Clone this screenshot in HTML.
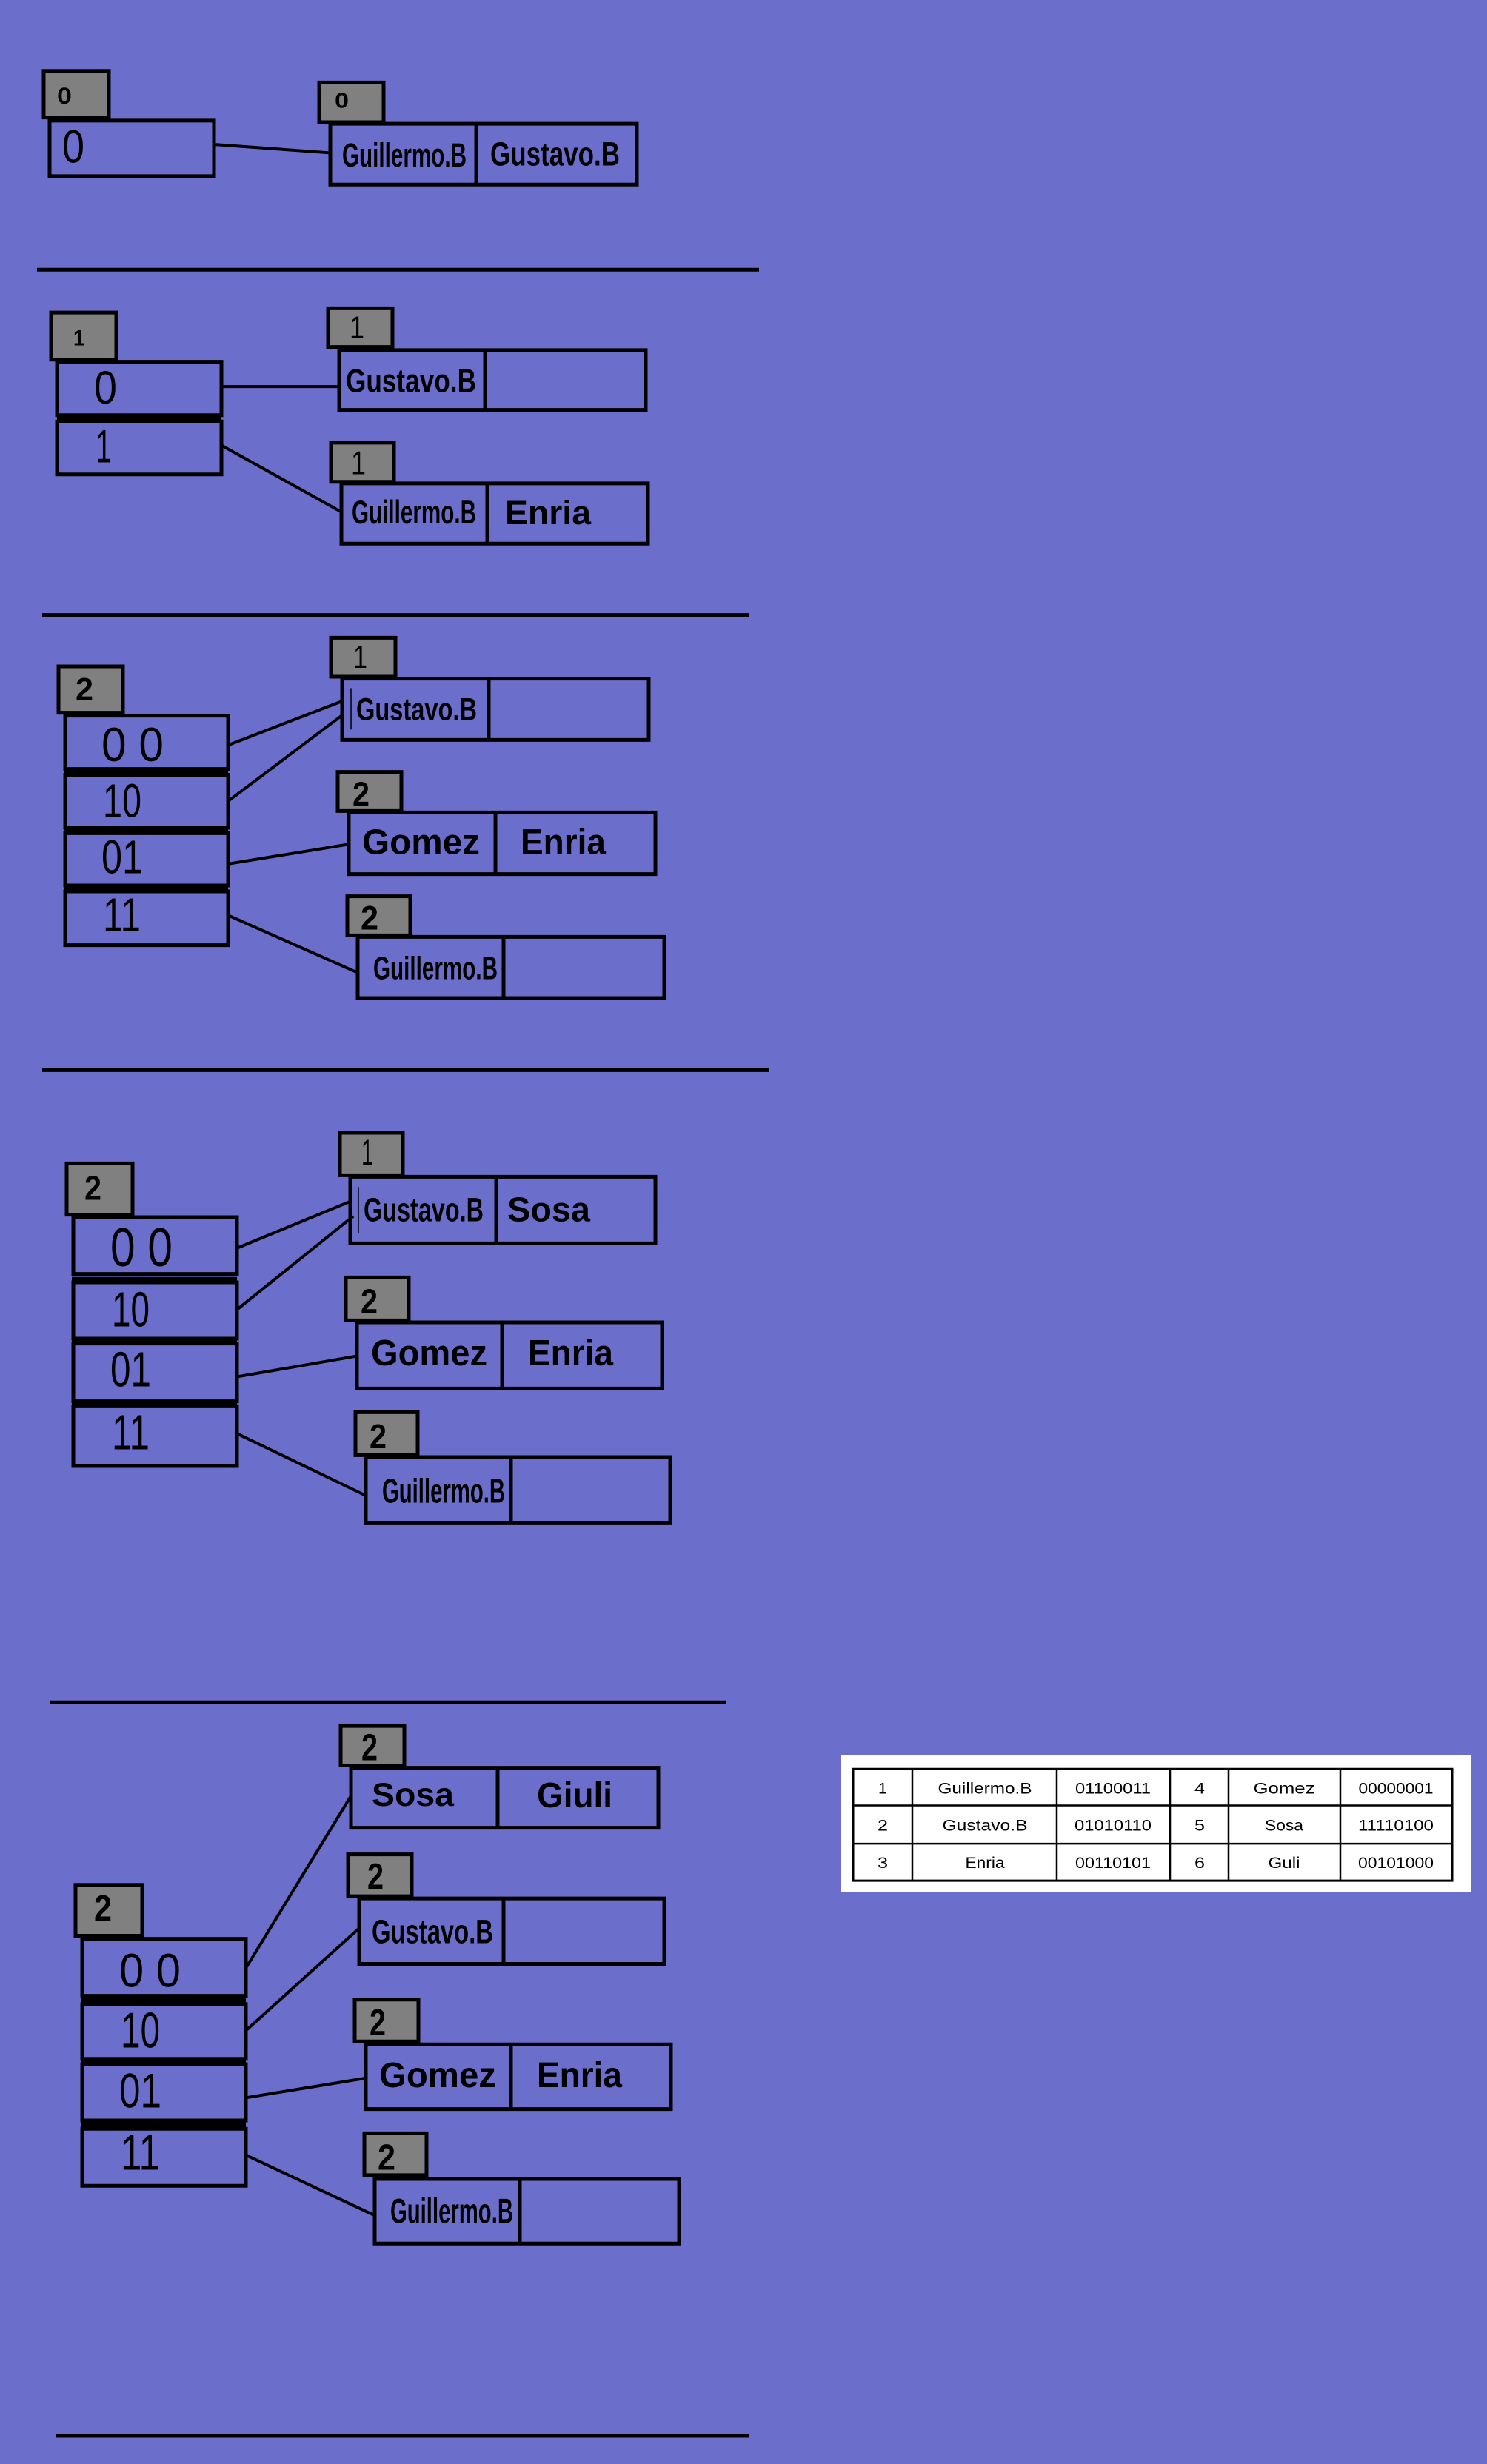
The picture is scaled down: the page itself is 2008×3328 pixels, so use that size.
<!DOCTYPE html>
<html><head><meta charset="utf-8"><style>
html,body{margin:0;padding:0;background:#6b6fcb;}
svg{display:block}
.b{fill:none;stroke:#000;stroke-width:5;vector-effect:non-scaling-stroke}
.g{fill:#808080;stroke:#000;stroke-width:5;vector-effect:non-scaling-stroke}
.l{stroke:#000;stroke-width:4;fill:none;vector-effect:non-scaling-stroke}
.s{stroke:#000;stroke-width:5;vector-effect:non-scaling-stroke}
.t{font-family:"Liberation Sans",sans-serif;font-weight:bold;fill:#000}
.n{font-family:"Liberation Sans",sans-serif;font-weight:normal;fill:#000}
.tb{font-family:"Liberation Sans",sans-serif;font-size:36px;fill:#000}
</style></head><body>
<svg width="2008" height="3328" viewBox="0 0 2008 3328" xmlns="http://www.w3.org/2000/svg">
<rect width="2008" height="3328" fill="#6b6fcb"/>

<g transform="matrix(1 0 0 0.7143 0 0)">
<!-- Section 1 -->
<rect class="g" x="59" y="134" width="88" height="88"/>
<text class="t" x="77" y="196" font-size="44" textLength="20" lengthAdjust="spacingAndGlyphs">0</text>
<rect class="b" x="67" y="228" width="222" height="105"/>
<text class="n" x="84" y="307" font-size="88" textLength="30" lengthAdjust="spacingAndGlyphs">0</text>
<rect class="g" x="431" y="156" width="87" height="75"/>
<text class="t" x="452" y="204" font-size="40" textLength="19" lengthAdjust="spacingAndGlyphs">0</text>
<rect class="b" x="446" y="234" width="414" height="115"/>
<line class="s" x1="643" y1="234" x2="643" y2="349"/>
<text class="t" x="462" y="315" font-size="64" textLength="168" lengthAdjust="spacingAndGlyphs">Guillermo.B</text>
<text class="t" x="662" y="313" font-size="64" textLength="175" lengthAdjust="spacingAndGlyphs">Gustavo.B</text>
<line class="l" x1="289" y1="273" x2="446" y2="289"/>
<line class="s" x1="50" y1="510" x2="1025" y2="510"/>

<!-- Section 2 -->
<rect class="g" x="69" y="591" width="88" height="89"/>
<text class="t" x="99" y="653" font-size="42" textLength="15" lengthAdjust="spacingAndGlyphs">1</text>
<rect class="b" x="77" y="684" width="222" height="101"/>
<rect x="77" y="787" width="222" height="9" fill="#000"/>
<rect class="b" x="77" y="797" width="222" height="100"/>
<text class="n" x="127" y="763" font-size="88" textLength="31" lengthAdjust="spacingAndGlyphs">0</text>
<text class="n" x="129" y="874" font-size="88" textLength="22" lengthAdjust="spacingAndGlyphs">1</text>
<rect class="g" x="443" y="583" width="87" height="73"/>
<text class="n" x="472" y="640" font-size="60" textLength="20" lengthAdjust="spacingAndGlyphs">1</text>
<rect class="b" x="458" y="662" width="414" height="113"/>
<line class="s" x1="655" y1="662" x2="655" y2="775"/>
<text class="t" x="467" y="741" font-size="62" textLength="176" lengthAdjust="spacingAndGlyphs">Gustavo.B</text>
<line class="l" x1="299" y1="731" x2="458" y2="731"/>
<rect class="g" x="447" y="837" width="85" height="74"/>
<text class="n" x="474" y="897" font-size="62" textLength="20" lengthAdjust="spacingAndGlyphs">1</text>
<rect class="b" x="461" y="914" width="414" height="114"/>
<line class="s" x1="658" y1="914" x2="658" y2="1028"/>
<text class="t" x="475" y="990" font-size="62" textLength="168" lengthAdjust="spacingAndGlyphs">Guillermo.B</text>
<text class="t" x="682" y="991" font-size="64" textLength="116" lengthAdjust="spacingAndGlyphs">Enria</text>
<line class="l" x1="299" y1="842" x2="461" y2="968"/>
</g>

<g transform="matrix(1 0 0 0.66667 0 266.667)">
<line class="s" x1="57" y1="846" x2="1011" y2="846"/>
<!-- Section 3 -->
<rect class="g" x="79" y="950" width="87" height="94"/>
<text class="t" x="102" y="1018" font-size="64" textLength="24" lengthAdjust="spacingAndGlyphs">2</text>
<rect class="b" x="88" y="1050" width="220" height="108"/>
<rect x="86" y="1161" width="222" height="9" fill="#000"/>
<rect class="b" x="88" y="1170" width="220" height="107"/>
<rect x="86" y="1278" width="222" height="8" fill="#000"/>
<rect class="b" x="88" y="1288" width="220" height="106"/>
<rect x="86" y="1395" width="222" height="9" fill="#000"/>
<rect class="b" x="88" y="1406" width="220" height="109"/>
<text class="n" x="137" y="1142" font-size="98" textLength="84" lengthAdjust="spacingAndGlyphs">0 0</text>
<text class="n" x="139" y="1255" font-size="96" textLength="52" lengthAdjust="spacingAndGlyphs">10</text>
<text class="n" x="137" y="1369" font-size="96" textLength="56" lengthAdjust="spacingAndGlyphs">01</text>
<text class="n" x="139" y="1486" font-size="96" textLength="51" lengthAdjust="spacingAndGlyphs">11</text>
<rect class="g" x="447" y="892" width="87" height="79"/>
<text class="n" x="477" y="953" font-size="66" textLength="19" lengthAdjust="spacingAndGlyphs">1</text>
<rect class="b" x="462" y="975" width="414" height="124"/>
<line class="s" x1="660" y1="975" x2="660" y2="1099"/>
<line x1="474" y1="994" x2="474" y2="1078" stroke="#000" stroke-width="1.5"/>
<text class="t" x="481" y="1059" font-size="64" textLength="163" lengthAdjust="spacingAndGlyphs">Gustavo.B</text>
<rect class="g" x="456" y="1164" width="86" height="79"/>
<text class="t" x="476" y="1232" font-size="68" textLength="23" lengthAdjust="spacingAndGlyphs">2</text>
<rect class="b" x="471" y="1246" width="414" height="125"/>
<line class="s" x1="669" y1="1246" x2="669" y2="1371"/>
<text class="t" x="489" y="1330" font-size="72" textLength="159" lengthAdjust="spacingAndGlyphs">Gomez</text>
<text class="t" x="703" y="1330" font-size="72" textLength="115" lengthAdjust="spacingAndGlyphs">Enria</text>
<rect class="g" x="469" y="1416" width="85" height="79"/>
<text class="t" x="487" y="1483" font-size="68" textLength="24" lengthAdjust="spacingAndGlyphs">2</text>
<rect class="b" x="483" y="1498" width="414" height="124"/>
<line class="s" x1="680" y1="1498" x2="680" y2="1622"/>
<text class="t" x="504" y="1584" font-size="66" textLength="168" lengthAdjust="spacingAndGlyphs">Guillermo.B</text>
<line class="l" x1="309" y1="1109" x2="463" y2="1020"/>
<line class="l" x1="309" y1="1222" x2="463" y2="1048"/>
<line class="l" x1="309" y1="1350" x2="473" y2="1310"/>
<line class="l" x1="309" y1="1455" x2="482" y2="1570"/>
<line class="s" x1="57" y1="1768" x2="1039" y2="1768"/>
</g>

<g transform="matrix(1 0 0 0.66667 0 500)">
<!-- Section 4 -->
<rect class="g" x="90" y="1607" width="89" height="104"/>
<text class="t" x="114" y="1681" font-size="70" textLength="23" lengthAdjust="spacingAndGlyphs">2</text>
<rect class="b" x="99" y="1716" width="221" height="115"/>
<rect x="97" y="1837" width="223" height="10" fill="#000"/>
<rect class="b" x="99" y="1848" width="221" height="114"/>
<rect x="97" y="1963" width="223" height="8" fill="#000"/>
<rect class="b" x="99" y="1972" width="221" height="117"/>
<rect x="97" y="2089" width="223" height="9" fill="#000"/>
<rect class="b" x="99" y="2099" width="221" height="121"/>
<text class="n" x="149" y="1815" font-size="110" textLength="84" lengthAdjust="spacingAndGlyphs">0 0</text>
<text class="n" x="151" y="1937" font-size="100" textLength="51" lengthAdjust="spacingAndGlyphs">10</text>
<text class="n" x="149" y="2059" font-size="100" textLength="55" lengthAdjust="spacingAndGlyphs">01</text>
<text class="n" x="151" y="2186" font-size="100" textLength="51" lengthAdjust="spacingAndGlyphs">11</text>
<rect class="g" x="459" y="1545" width="85" height="86"/>
<text class="n" x="488" y="1610" font-size="74" textLength="16" lengthAdjust="spacingAndGlyphs">1</text>
<rect class="b" x="473" y="1634" width="412" height="135"/>
<line class="s" x1="670" y1="1634" x2="670" y2="1769"/>
<line x1="484" y1="1655" x2="484" y2="1748" stroke="#000" stroke-width="1.5"/>
<text class="t" x="491" y="1724" font-size="68" textLength="162" lengthAdjust="spacingAndGlyphs">Gustavo.B</text>
<text class="t" x="685" y="1724" font-size="70" textLength="112" lengthAdjust="spacingAndGlyphs">Sosa</text>
<rect class="g" x="467" y="1838" width="85" height="87"/>
<text class="t" x="487" y="1910" font-size="70" textLength="23" lengthAdjust="spacingAndGlyphs">2</text>
<rect class="b" x="482" y="1929" width="412" height="134"/>
<line class="s" x1="678" y1="1929" x2="678" y2="2063"/>
<text class="t" x="501" y="2016" font-size="74" textLength="157" lengthAdjust="spacingAndGlyphs">Gomez</text>
<text class="t" x="713" y="2016" font-size="74" textLength="115" lengthAdjust="spacingAndGlyphs">Enria</text>
<rect class="g" x="480" y="2111" width="84" height="87"/>
<text class="t" x="499" y="2184" font-size="70" textLength="23" lengthAdjust="spacingAndGlyphs">2</text>
<rect class="b" x="494" y="2202" width="411" height="134"/>
<line class="s" x1="690" y1="2202" x2="690" y2="2336"/>
<text class="t" x="516" y="2294" font-size="70" textLength="166" lengthAdjust="spacingAndGlyphs">Guillermo.B</text>
<line class="l" x1="321" y1="1778" x2="473" y2="1684"/>
<line class="l" x1="321" y1="1902" x2="477" y2="1714"/>
<line class="l" x1="321" y1="2039" x2="483" y2="1997"/>
<line class="l" x1="321" y1="2155" x2="494" y2="2280"/>
</g>

<g transform="matrix(1 0 0 1.0267 0 -60.075)">
<!-- Section 5 -->
<line class="s" x1="67" y1="2298" x2="981" y2="2298"/>
<rect class="g" x="102" y="2538" width="90" height="67"/>
<text class="t" x="127" y="2585" font-size="48" textLength="24" lengthAdjust="spacingAndGlyphs">2</text>
<rect class="b" x="111" y="2609" width="221" height="75"/>
<rect x="109" y="2685" width="223" height="9" fill="#000"/>
<rect class="b" x="111" y="2695" width="221" height="72"/>
<rect x="109" y="2767" width="223" height="6" fill="#000"/>
<rect class="b" x="111" y="2774" width="221" height="74"/>
<rect x="109" y="2850" width="223" height="8" fill="#000"/>
<rect class="b" x="111" y="2859" width="221" height="75"/>
<text class="n" x="161" y="2672" font-size="62" textLength="83" lengthAdjust="spacingAndGlyphs">0 0</text>
<text class="n" x="163" y="2752" font-size="66" textLength="53" lengthAdjust="spacingAndGlyphs">10</text>
<text class="n" x="161" y="2831" font-size="64" textLength="57" lengthAdjust="spacingAndGlyphs">01</text>
<text class="n" x="163" y="2913" font-size="66" textLength="53" lengthAdjust="spacingAndGlyphs">11</text>

<rect class="g" x="460" y="2329" width="86" height="52"/>
<text class="t" x="488" y="2374" font-size="50" textLength="22" lengthAdjust="spacingAndGlyphs">2</text>
<rect class="b" x="474" y="2384" width="415" height="79"/>
<line class="s" x1="672" y1="2384" x2="672" y2="2463"/>
<text class="t" x="502" y="2434" font-size="43" textLength="111" lengthAdjust="spacingAndGlyphs">Sosa</text>
<text class="t" x="725" y="2436" font-size="47" textLength="102" lengthAdjust="spacingAndGlyphs">Giuli</text>

<rect class="g" x="470" y="2498" width="86" height="55"/>
<text class="t" x="496" y="2543" font-size="48" textLength="22" lengthAdjust="spacingAndGlyphs">2</text>
<rect class="b" x="485" y="2556" width="412" height="86"/>
<line class="s" x1="680" y1="2556" x2="680" y2="2642"/>
<text class="t" x="502" y="2615" font-size="44" textLength="164" lengthAdjust="spacingAndGlyphs">Gustavo.B</text>

<rect class="g" x="479" y="2689" width="86" height="55"/>
<text class="t" x="499" y="2736" font-size="50" textLength="22" lengthAdjust="spacingAndGlyphs">2</text>
<rect class="b" x="494" y="2748" width="412" height="85"/>
<line class="s" x1="690" y1="2748" x2="690" y2="2833"/>
<text class="t" x="512" y="2804" font-size="47" textLength="158" lengthAdjust="spacingAndGlyphs">Gomez</text>
<text class="t" x="725" y="2804" font-size="47" textLength="115" lengthAdjust="spacingAndGlyphs">Enria</text>

<rect class="g" x="492" y="2865" width="84" height="55"/>
<text class="t" x="510" y="2913" font-size="48" textLength="24" lengthAdjust="spacingAndGlyphs">2</text>
<rect class="b" x="506" y="2925" width="411" height="85"/>
<line class="s" x1="702" y1="2925" x2="702" y2="3010"/>
<text class="t" x="527" y="2983" font-size="46" textLength="166" lengthAdjust="spacingAndGlyphs">Guillermo.B</text>

<line class="l" x1="333" y1="2646" x2="474" y2="2421"/>
<line class="l" x1="333" y1="2729" x2="484" y2="2596"/>
<line class="l" x1="333" y1="2818" x2="496" y2="2792"/>
<line class="l" x1="333" y1="2894" x2="506" y2="2973"/>
<line class="s" x1="75" y1="3263" x2="1011" y2="3263"/>
</g>

<g transform="matrix(1 0 0 0.594 0 954.1)">
<!-- Table -->
<rect x="1135" y="2385" width="852" height="311" fill="#fff"/>
<rect x="1152" y="2416" width="809" height="254" fill="none" stroke="#000" stroke-width="3" vector-effect="non-scaling-stroke"/>
<g stroke="#000" stroke-width="2.5" vector-effect="non-scaling-stroke">
<line x1="1232" y1="2416" x2="1232" y2="2670" vector-effect="non-scaling-stroke"/>
<line x1="1427" y1="2416" x2="1427" y2="2670" vector-effect="non-scaling-stroke"/>
<line x1="1580" y1="2416" x2="1580" y2="2670" vector-effect="non-scaling-stroke"/>
<line x1="1659" y1="2416" x2="1659" y2="2670" vector-effect="non-scaling-stroke"/>
<line x1="1810" y1="2416" x2="1810" y2="2670" vector-effect="non-scaling-stroke"/>
<line x1="1152" y1="2499" x2="1961" y2="2499" vector-effect="non-scaling-stroke"/>
<line x1="1152" y1="2586" x2="1961" y2="2586" vector-effect="non-scaling-stroke"/>
</g>
<g class="tb" text-anchor="middle">
<text x="1192" y="2472" textLength="12" lengthAdjust="spacingAndGlyphs">1</text>
<text x="1330" y="2472" textLength="127" lengthAdjust="spacingAndGlyphs">Guillermo.B</text>
<text x="1503" y="2472" textLength="102" lengthAdjust="spacingAndGlyphs">01100011</text>
<text x="1620" y="2472" textLength="14" lengthAdjust="spacingAndGlyphs">4</text>
<text x="1734" y="2472" textLength="83" lengthAdjust="spacingAndGlyphs">Gomez</text>
<text x="1885" y="2472" textLength="101" lengthAdjust="spacingAndGlyphs">00000001</text>
<text x="1192" y="2556" textLength="14" lengthAdjust="spacingAndGlyphs">2</text>
<text x="1330" y="2556" textLength="115" lengthAdjust="spacingAndGlyphs">Gustavo.B</text>
<text x="1503" y="2556" textLength="104" lengthAdjust="spacingAndGlyphs">01010110</text>
<text x="1620" y="2556" textLength="14" lengthAdjust="spacingAndGlyphs">5</text>
<text x="1734" y="2556" textLength="52" lengthAdjust="spacingAndGlyphs">Sosa</text>
<text x="1885" y="2556" textLength="102" lengthAdjust="spacingAndGlyphs">11110100</text>
<text x="1192" y="2641" textLength="14" lengthAdjust="spacingAndGlyphs">3</text>
<text x="1330" y="2641" textLength="53" lengthAdjust="spacingAndGlyphs">Enria</text>
<text x="1503" y="2641" textLength="102" lengthAdjust="spacingAndGlyphs">00110101</text>
<text x="1620" y="2641" textLength="14" lengthAdjust="spacingAndGlyphs">6</text>
<text x="1734" y="2641" textLength="43" lengthAdjust="spacingAndGlyphs">Guli</text>
<text x="1885" y="2641" textLength="102" lengthAdjust="spacingAndGlyphs">00101000</text>
</g>
</g>
</svg>
</body></html>
